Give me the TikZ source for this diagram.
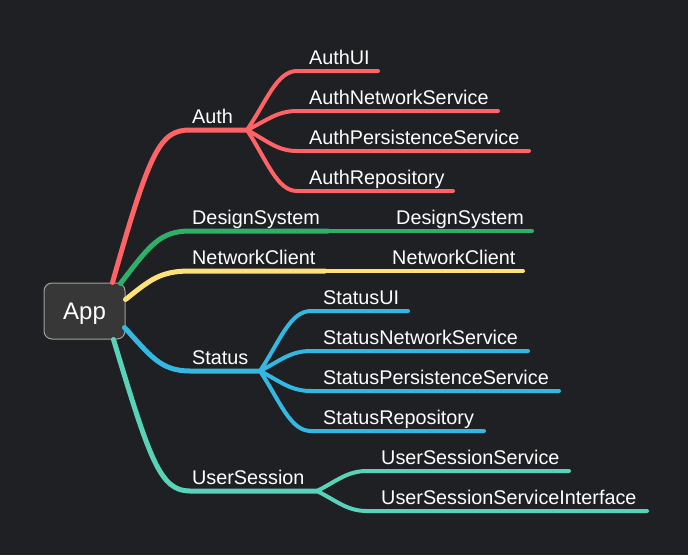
\documentclass[tikz,border=0pt]{standalone}
\usepackage{fontspec}
\setmainfont{Liberation Sans}
\definecolor{mybg}{RGB}{31,32,36}
\definecolor{myred}{RGB}{255,99,102}
\definecolor{mygreen}{RGB}{46,176,104}
\definecolor{myyellow}{RGB}{255,225,120}
\definecolor{myblue}{RGB}{52,184,225}
\definecolor{myteal}{RGB}{88,210,184}
\definecolor{myfill}{RGB}{55,55,55}
\definecolor{myborder}{RGB}{160,160,160}
\tikzset{branch/.style={line width=5pt,line cap=round},
  leaf/.style={line width=4pt,line cap=round},
  lbl/.style={anchor=base west,inner sep=0pt,text=white,font=\fontsize{19.8}{20}\selectfont}}

\begin{document}
\begin{tikzpicture}[x=1pt,y=-1pt]

\fill[mybg] (0,0) rectangle (688,555);
\useasboundingbox (0,0) rectangle (688,555);

\node[draw=myborder,fill=myfill,line width=1pt,rounded corners=8pt,minimum width=81pt,minimum height=56pt,text depth=0pt,text=white,font=\fontsize{24}{24}\selectfont] (app) at (84.5,311) {App};

% Auth
\coordinate (auth) at (247,130);
\draw[branch,myred] ([xshift=-13pt]app.north east) .. controls (150,150) and (160,130) .. (190,130) -- (auth);
\node[lbl] (authlbl) at (192,123.5) {Auth};
\foreach \y/\e/\t [count=\i] in {71/378/AuthUI,111/498/AuthNetworkService,151/529/AuthPersistenceService,191/453/AuthRepository}{
  \draw[leaf,myred] (auth) .. controls ({247+20},{130+0.5*(\y-130)}) and (277,\y) .. (297,\y) -- (\e,\y);
  \node[lbl] (auth\i) at (309,\y-6.5) {\t};
}

% DesignSystem
\coordinate (ds) at (328,231);
\draw[branch,mygreen] ([shift={(-5pt,-1pt)}]app.north east) .. controls (150,245) and (160,231) .. (190,231) -- (ds);
\draw[leaf,mygreen] (ds) -- (532,231);
\node[lbl] (dslbl) at (192,224.5) {DesignSystem};
\node[lbl] (ds1) at (396,224.5) {DesignSystem};

% NetworkClient
\coordinate (nc) at (325,271);
\draw[branch,myyellow] ([yshift=-17pt]app.north east) .. controls (150,280) and (160,271) .. (190,271) -- (nc);
\draw[leaf,myyellow] (nc) -- (523,271);
\node[lbl] (nclbl) at (192,264.5) {NetworkClient};
\node[lbl] (nc1) at (392,264.5) {NetworkClient};

% Status
\coordinate (status) at (260,371);
\draw[branch,myblue] ([shift={(-1pt,12pt)}]app.south east) .. controls (150,355) and (160,371) .. (190,371) -- (status);
\node[lbl] (statuslbl) at (192,364.5) {Status};
\foreach \y/\e/\t [count=\i] in {311/408/StatusUI,351/528/StatusNetworkService,391/559/StatusPersistenceService,431/484/StatusRepository}{
  \draw[leaf,myblue] (status) .. controls ({260+20},{371+0.5*(\y-371)}) and (290,\y) .. (311,\y) -- (\e,\y);
  \node[lbl] (status\i) at (323,\y-6.5) {\t};
}

% UserSession
\coordinate (us) at (317,491);
\draw[branch,myteal] ([xshift=-12pt]app.south east) .. controls (150,460) and (160,491) .. (190,491) -- (us);
\node[lbl] (uslbl) at (192,484.5) {UserSession};
\foreach \y/\e/\t [count=\i] in {471/569/UserSessionService,511/647/UserSessionServiceInterface}{
  \draw[leaf,myteal] (us) .. controls ({317+20},{491+0.5*(\y-491)}) and (347,\y) .. (367,\y) -- (\e,\y);
  \node[lbl] (us\i) at (381,\y-6.5) {\t};
}

\end{tikzpicture}
\end{document}
